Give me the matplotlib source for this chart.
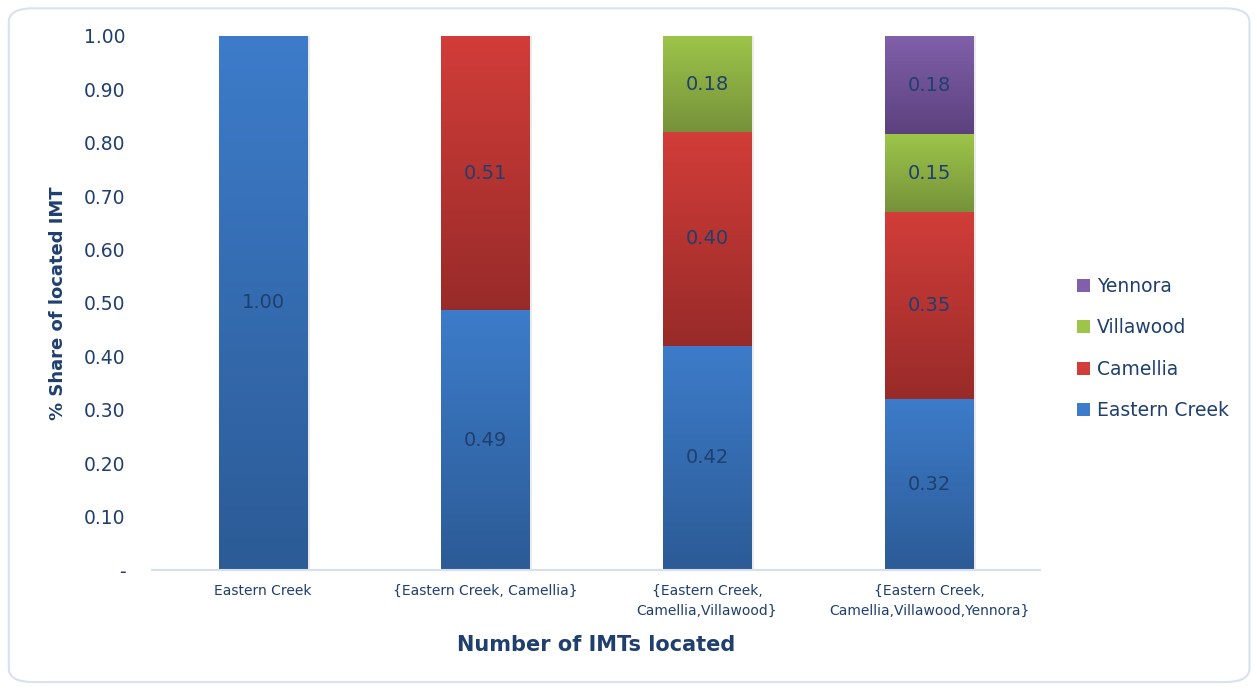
import numpy as np
import matplotlib
matplotlib.use('Agg')
import matplotlib.pyplot as plt
from matplotlib.colors import LinearSegmentedColormap
from matplotlib.patches import FancyBboxPatch, Patch

# ---- data ----
categories = ['Eastern Creek', '{Eastern Creek, Camellia}',
              '{Eastern Creek,\nCamellia,Villawood}',
              '{Eastern Creek,\nCamellia,Villawood,Yennora}']
eastern_creek = [1.00, 0.486, 0.42, 0.32]
camellia = [0.0, 0.514, 0.40, 0.35]
villawood = [0.0, 0.0, 0.18, 0.146]
yennora = [0.0, 0.0, 0.0, 0.184]
series_names = ['Eastern Creek', 'Camellia', 'Villawood', 'Yennora']
yticks = [0.0, 0.1, 0.2, 0.3, 0.4, 0.5, 0.6, 0.7, 0.8, 0.9, 1.0]
ytick_labels = ['-'] + ['%.2f' % v for v in yticks[1:]]

# gradient (top, bottom) colours
grads = {
    'Eastern Creek': ('#3D7CCA', '#2C5B96'),
    'Camellia': ('#D23D39', '#982B29'),
    'Villawood': ('#9DC54A', '#76923A'),
    'Yennora': ('#8060AA', '#5C417E'),
}

TXT = '#1F3F6E'
plt.rcParams['font.family'] = 'DejaVu Sans'

fig = plt.figure(figsize=(12.57, 6.89), dpi=100)
ax = fig.add_axes([0.1209, 0.1727, 0.7065, 0.7751])

x = np.arange(len(categories))
bottom = np.zeros(len(categories))
all_series = [eastern_creek, camellia, villawood, yennora]
grad_img = np.linspace(0, 1, 256).reshape(-1, 1)
for name, vals in zip(series_names, all_series):
    top_c, bot_c = grads[name]
    bars = ax.bar(x, vals, width=0.4, bottom=bottom, color=top_c,
                  edgecolor='none', zorder=2, label=name)
    cmap = LinearSegmentedColormap.from_list(name, [bot_c, top_c])
    for p in bars.patches:
        if p.get_height() <= 0:
            continue
        x0, y0 = p.get_x(), p.get_y()
        w, h = p.get_width(), p.get_height()
        # soft shadow on the right side
        ax.add_patch(plt.Rectangle((x0 + w, y0), 0.012, h, color='#000000',
                                   alpha=0.08, lw=0, zorder=1.5))
        ax.imshow(grad_img, extent=[x0, x0 + w, y0, y0 + h], cmap=cmap,
                  origin='lower', aspect='auto', zorder=2.5)
    labels = ['%.2f' % v if v > 0 else '' for v in vals]
    ax.bar_label(bars, labels=labels, label_type='center', color=TXT,
                 fontsize=14)
    for t in ax.texts:
        t.set_zorder(5)
    bottom += np.array(vals)

ax.set_xlim(-0.5, len(categories) - 0.5)
ax.set_ylim(0, 1.0)
ax.set_yticks(yticks)
ax.set_yticklabels(ytick_labels, fontsize=13.5, color=TXT)
ax.set_xticks(x)
ax.set_xticklabels(categories, fontsize=10, color=TXT, linespacing=1.5)
ax.tick_params(axis='both', length=0)
ax.tick_params(axis='y', pad=19)
ax.tick_params(axis='x', pad=10)
for s in ['top', 'right', 'left']:
    ax.spines[s].set_visible(False)
ax.spines['bottom'].set_color('#D5DFEE')
ax.spines['bottom'].set_linewidth(1.5)
ax.spines['bottom'].set_zorder(6)

ax.set_xlabel('Number of IMTs located', fontsize=15, fontweight='bold',
              color=TXT, labelpad=13)
ax.set_ylabel('% Share of located IMT', fontsize=13, fontweight='bold',
              color=TXT, labelpad=12)

handles = [Patch(facecolor=grads[n][0], edgecolor='none') for n in series_names][::-1]
leg = fig.legend(handles, series_names[::-1], loc='center left',
                 bbox_to_anchor=(0.849, 0.494), frameon=False, fontsize=13.5,
                 handlelength=0.7, handleheight=0.7, handletextpad=0.4,
                 labelspacing=1.2, borderpad=0)
for t in leg.get_texts():
    t.set_color(TXT)

# rounded chart border
border = FancyBboxPatch((0.007, 0.01), 0.987, 0.978,
                        boxstyle='round,pad=0,rounding_size=0.02',
                        transform=fig.transFigure, facecolor='none',
                        edgecolor='#D6E2F2', linewidth=1.5)
fig.patches.append(border)

fig.savefig('out.png', dpi=100)
